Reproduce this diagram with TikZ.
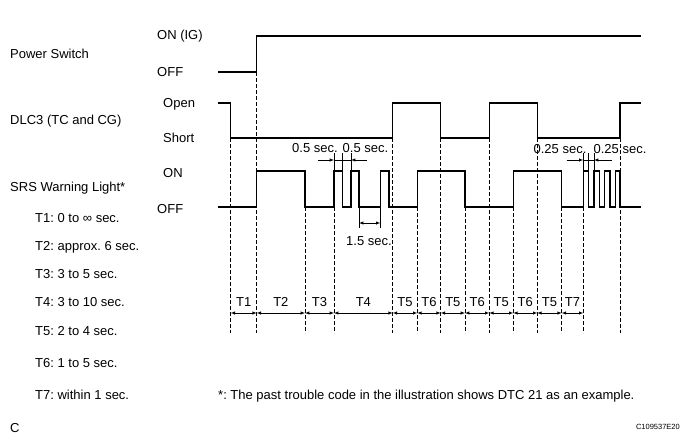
\documentclass[tikz,border=0pt]{standalone}
\usepackage{fontspec}
\setmainfont{Liberation Sans}
\frenchspacing
\usetikzlibrary {positioning}

\begin{document}
\begin{tikzpicture}[x=1pt ,y=-1pt ,node distance =28pt ,on grid ,
lab/.style ={ font=\fontsize{13}{15}\selectfont ,inner sep=0pt ,
text height=9.4pt ,text depth=0pt},
wave/.style ={ line width=1.2pt ,line join=miter},
guide/.style ={ line width=0.6pt ,dash pattern=on 3.5pt off 2.5pt},
dim/.style ={ line width=0.5pt},
span/.style ={ latex-latex ,line width=0.5pt}]
\useasboundingbox (0,0) rectangle (688,442);

% signal names
\node[lab ,anchor=west] (PowerName) at (10,54) {Power Switch};
\node[lab ,anchor=west] (DlcName) at (10,120) {DLC3 (TC and CG)};
\node[lab ,anchor=west] (SrsName) at (10,187) {SRS Warning Light*};

% levels
\node[lab ,anchor=west] (PowerOn) at (157,35) {ON (IG)};
\node[lab ,anchor=west] (PowerOff) at (157,72) {OFF};
\node[lab ,anchor=west] (DlcOpen) at (163,103) {Open};
\node[lab ,anchor=west] (DlcShort) at (163,138) {Short};
\node[lab ,anchor=west] (SrsOn) at (163,173) {ON};
\node[lab ,anchor=west] (SrsOff) at (157,209) {OFF};

% time list
\node[lab ,anchor=west] (T1Note) at (35,218) {T1: 0 to ∞ sec.};
\node[lab] (T2Note) [below=of T1Note.west ,anchor=west] {T2: approx. 6 sec.};
\node[lab] (T3Note) [below=of T2Note.west ,anchor=west] {T3: 3 to 5 sec.};
\node[lab] (T4Note) [below=of T3Note.west ,anchor=west] {T4: 3 to 10 sec.};
\node[lab] (T5Note) [below=29pt of T4Note.west ,anchor=west] {T5: 2 to 4 sec.};
\node[lab] (T6Note) [below=32pt of T5Note.west ,anchor=west] {T6: 1 to 5 sec.};
\node[lab] (T7Note) [below=32pt of T6Note.west ,anchor=west] {T7: within 1 sec.};
\node[lab ,anchor=west] (StarNote) at (218,395) {*: The past trouble code in the illustration shows DTC 21 as an example.};
\node[lab ,anchor=west] (PageC) at (10,428) {C};
\node[font=\fontsize{7.5}{9}\selectfont ,inner sep=0pt ,anchor=east] (CodeNo) at (680,427) {C109537E20};

% signals
\draw[wave] (218,72) -| (256.7,36) -- (640.7,36);
\draw[wave] (218,103) -| (230.7,138) -| (392.7,103) -| (440.7,138) -| (489.3,103)
  -| (537.3,138) -| (620,103) -- (640.7,103);
\draw[wave] (218,207) -| (256.7,171) -| (305,207) -| (334,171) -| (342.7,207)
  -| (351,171) -| (359,207) -| (380.3,171) -| (389,207) -| (417.3,171)
  -| (465,207) -| (513.3,171) -| (561.7,207) -| (583.3,171) -| (588.7,207)
  -| (594,171) -| (599.3,207) -| (604.7,171) -| (610,207) -| (615.3,171)
  -| (620,207) -- (640.7,207);

% guide lines
\foreach \n/\x/\top in {G1/230.7/138, G2/256.7/72, G3/305/207, G4/334/207,
  G5/392.7/138, G6/417.3/207, G7/440.7/138, G8/465/207, G9/489.3/138,
  G10/513.3/207, G11/537.3/138, G12/561.7/207, G13/583.3/207, G14/620/138}
{
\coordinate (\n) at (\x,\top);
\coordinate (\n m) at (\x,313);
\coordinate (\n b) at (\x,333);
\draw[guide] (\n) -- (\n b);
}

% time spans
\foreach \a/\b/\t in {G1/G2/T1, G2/G3/T2, G3/G4/T3, G4/G5/T4, G5/G6/T5,
  G6/G7/T6, G7/G8/T5, G8/G9/T6, G9/G10/T5, G10/G11/T6, G11/G12/T5, G12/G13/T7}
\draw[span] (\a m) -- node[lab ,yshift=11pt] (Span\a) {\t} (\b m);

% 0.5 sec. pulses
\foreach \n/\x in {HalfA/334, HalfB/342.7, HalfC/351}
{
\coordinate (\n) at (\x,171);
\coordinate (\n t) at (\x,153);
\draw[dim] (\n) -- (\n t);
}
\coordinate (HalfL) at (318.3,160);
\coordinate (HalfR) at (366.7,160);
\draw[dim ,-latex] (HalfL) -- (HalfA |- HalfL);
\draw[dim] (HalfA |- HalfL) -- (HalfC |- HalfL);
\draw[dim ,-latex] (HalfR) -- (HalfC |- HalfL);
\node[lab] (HalfOne) at (315,148) {0.5 sec.};
\node[lab] (HalfTwo) at (365.5,148) {0.5 sec.};

% 1.5 sec. gap
\foreach \n/\x in {GapA/359, GapB/380.3}
{
\coordinate (\n) at (\x,207);
\coordinate (\n t) at (\x,228);
\draw[dim] (\n) -- (\n t);
}
\draw[dim ,latex-latex] (GapA |- 0,223) -- (GapB |- 0,223);
\node[lab] (GapText) at (369,241) {1.5 sec.};

% 0.25 sec. pulses
\foreach \n/\x in {QuarA/583.3, QuarB/588.7, QuarC/594}
{
\coordinate (\n) at (\x,171);
\coordinate (\n t) at (\x,153);
\draw[dim] (\n) -- (\n t);
}
\coordinate (QuarL) at (566.7,160);
\coordinate (QuarR) at (611.7,160);
\draw[dim ,-latex] (QuarL) -- (QuarA |- QuarL);
\draw[dim] (QuarA |- QuarL) -- (QuarC |- QuarL);
\draw[dim ,-latex] (QuarR) -- (QuarC |- QuarL);
\node[lab] (QuarOne) at (560,149) {0.25 sec.};
\node[lab] (QuarTwo) at (620,149) {0.25 sec.};
\end{tikzpicture}
\end{document}
